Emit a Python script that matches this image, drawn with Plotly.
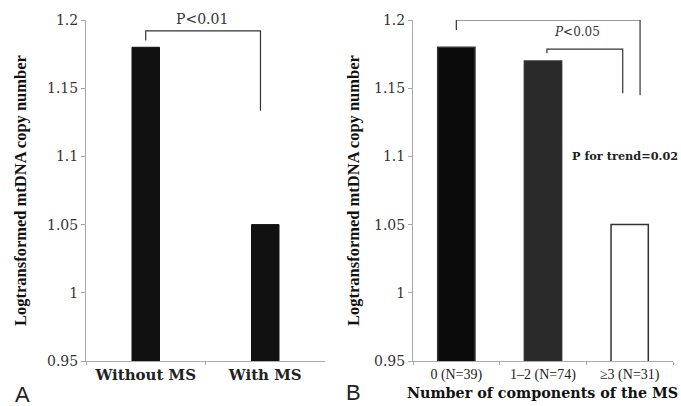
import plotly.graph_objects as go

# ---- data ----
cats_a = ["Without MS", "With MS"]
vals_a = [1.18, 1.05]
colors_a = ["#111111", "#111111"]

cats_b = ["0 (N=39)", "1\u20132 (N=74)", "\u22653 (N=31)"]
vals_b = [1.18, 1.17, 1.05]
colors_b = ["#0a0a0a", "#2a2a2a", "#ffffff"]

y_ticks = [0.95, 1.0, 1.05, 1.1, 1.15, 1.2]
y_ticktext = ["0.95", "1", "1.05", "1.1", "1.15", "1.2"]
y_title = "Logtransformed mtDNA copy number"
x_title_b = "Number of components of the MS"

W, H = 681, 406

fig = go.Figure()
fig.add_trace(go.Bar(x=cats_a, y=vals_a, width=0.23,
                     marker=dict(color=colors_a, line=dict(color="#111", width=1)),
                     xaxis="x", yaxis="y", showlegend=False))
fig.add_trace(go.Bar(x=cats_b, y=vals_b, width=0.43,
                     marker=dict(color=colors_b, line=dict(color="#333", width=1.5)),
                     xaxis="x2", yaxis="y2", showlegend=False))

def px_x(p):
    return p / W

def px_y(p):
    return 1 - p / H

ydom = [px_y(361), px_y(20)]
axis_common = dict(showline=True, linecolor="#aaaaaa", linewidth=1, showgrid=False,
                   zeroline=False, automargin=False)

fig.update_layout(
    template="none",
    width=W, height=H,
    margin=dict(l=0, r=0, t=0, b=0, autoexpand=False),
    paper_bgcolor="white", plot_bgcolor="white",
    xaxis=dict(domain=[px_x(86), px_x(325)], anchor="y", ticks="outside", ticklen=3,
               range=[-0.5, len(cats_a) - 0.5],
               tickcolor="#aaa", tickson="boundaries",
               tickvals=cats_a, ticktext=["<b>%s</b>" % c for c in cats_a],
               tickfont=dict(family="DejaVu Serif", size=15, color="#222"),
               **axis_common),
    yaxis=dict(domain=ydom, anchor="x", range=[0.95, 1.2], tickvals=y_ticks, ticktext=y_ticktext,
               ticks="outside", ticklen=4, tickcolor="#aaa",
               tickfont=dict(family="DejaVu Serif", size=14, color="#333"), **axis_common),
    xaxis2=dict(domain=[px_x(413), px_x(673)], anchor="y2", ticks="outside", ticklen=3,
                range=[-0.5, len(cats_b) - 0.5],
                tickcolor="#aaa", tickson="boundaries",
                tickfont=dict(family="Liberation Serif", size=14, color="#222"),
                **axis_common),
    yaxis2=dict(domain=ydom, anchor="x2", range=[0.95, 1.2], tickvals=y_ticks, ticktext=y_ticktext,
                ticks="outside", ticklen=4, tickcolor="#aaa",
                tickfont=dict(family="DejaVu Serif", size=14, color="#333"), **axis_common),
)

# ---- significance brackets ----
line_style = dict(color="#333", width=1.2)

def bracket(xref, yref, x0, x1, ytop, yl, yr):
    fig.add_shape(type="path", xref=xref, yref=yref,
                  path=f"M {x0},{yl} L {x0},{ytop} L {x1},{ytop} L {x1},{yr}",
                  line=line_style)

bracket("x", "y", 0, 0.96, 1.192, vals_a[0] + 0.005, 1.1335)
bracket("x2", "y2", 0, 2.12, 1.2, 1.1926, 1.1449)
bracket("x2", "y2", 1.045, 1.92, 1.1787, 1.1757, 1.1463)

fig.add_annotation(xref="paper", yref="paper", x=px_x(202), y=px_y(19), text="P&lt;0.01", showarrow=False,
                   font=dict(family="DejaVu Serif", size=14, color="#333"),
                   xanchor="center", yanchor="middle")
fig.add_annotation(xref="x2", yref="y2", x=1.39, y=1.191, text="<i>P</i>&lt;0.05", showarrow=False,
                   font=dict(family="DejaVu Serif", size=12, color="#333"),
                   xanchor="center", yanchor="middle")
fig.add_annotation(xref="x2", yref="y2", x=1.31, y=1.1, text="<b>P for trend=0.02</b>",
                   showarrow=False, xanchor="left", yanchor="middle",
                   font=dict(family="DejaVu Serif", size=11.3, color="#222"))

# ---- axis titles & panel letters ----
for xc in (20, 353):
    fig.add_annotation(xref="paper", yref="paper", x=px_x(xc), y=px_y(191), text="<b>%s</b>" % y_title,
                       textangle=-90, showarrow=False, xanchor="center", yanchor="middle",
                       font=dict(family="Liberation Serif", size=16.5, color="#111"))
fig.add_annotation(xref="paper", yref="paper", x=px_x(542), y=px_y(393), text="<b>%s</b>" % x_title_b,
                   showarrow=False, xanchor="center", yanchor="middle",
                   font=dict(family="DejaVu Serif", size=14.3, color="#111"))
fig.add_annotation(xref="paper", yref="paper", x=px_x(22), y=px_y(394), text="A", showarrow=False,
                   xanchor="center", yanchor="middle", font=dict(family="Liberation Sans", size=22, color="#222"))
fig.add_annotation(xref="paper", yref="paper", x=px_x(353), y=px_y(392), text="B", showarrow=False,
                   xanchor="center", yanchor="middle", font=dict(family="Liberation Sans", size=22, color="#222"))

fig.write_html("out.html", config={"displayModeBar": False},
               post_script="document.body.style.margin='0';document.body.style.overflow='hidden';")
